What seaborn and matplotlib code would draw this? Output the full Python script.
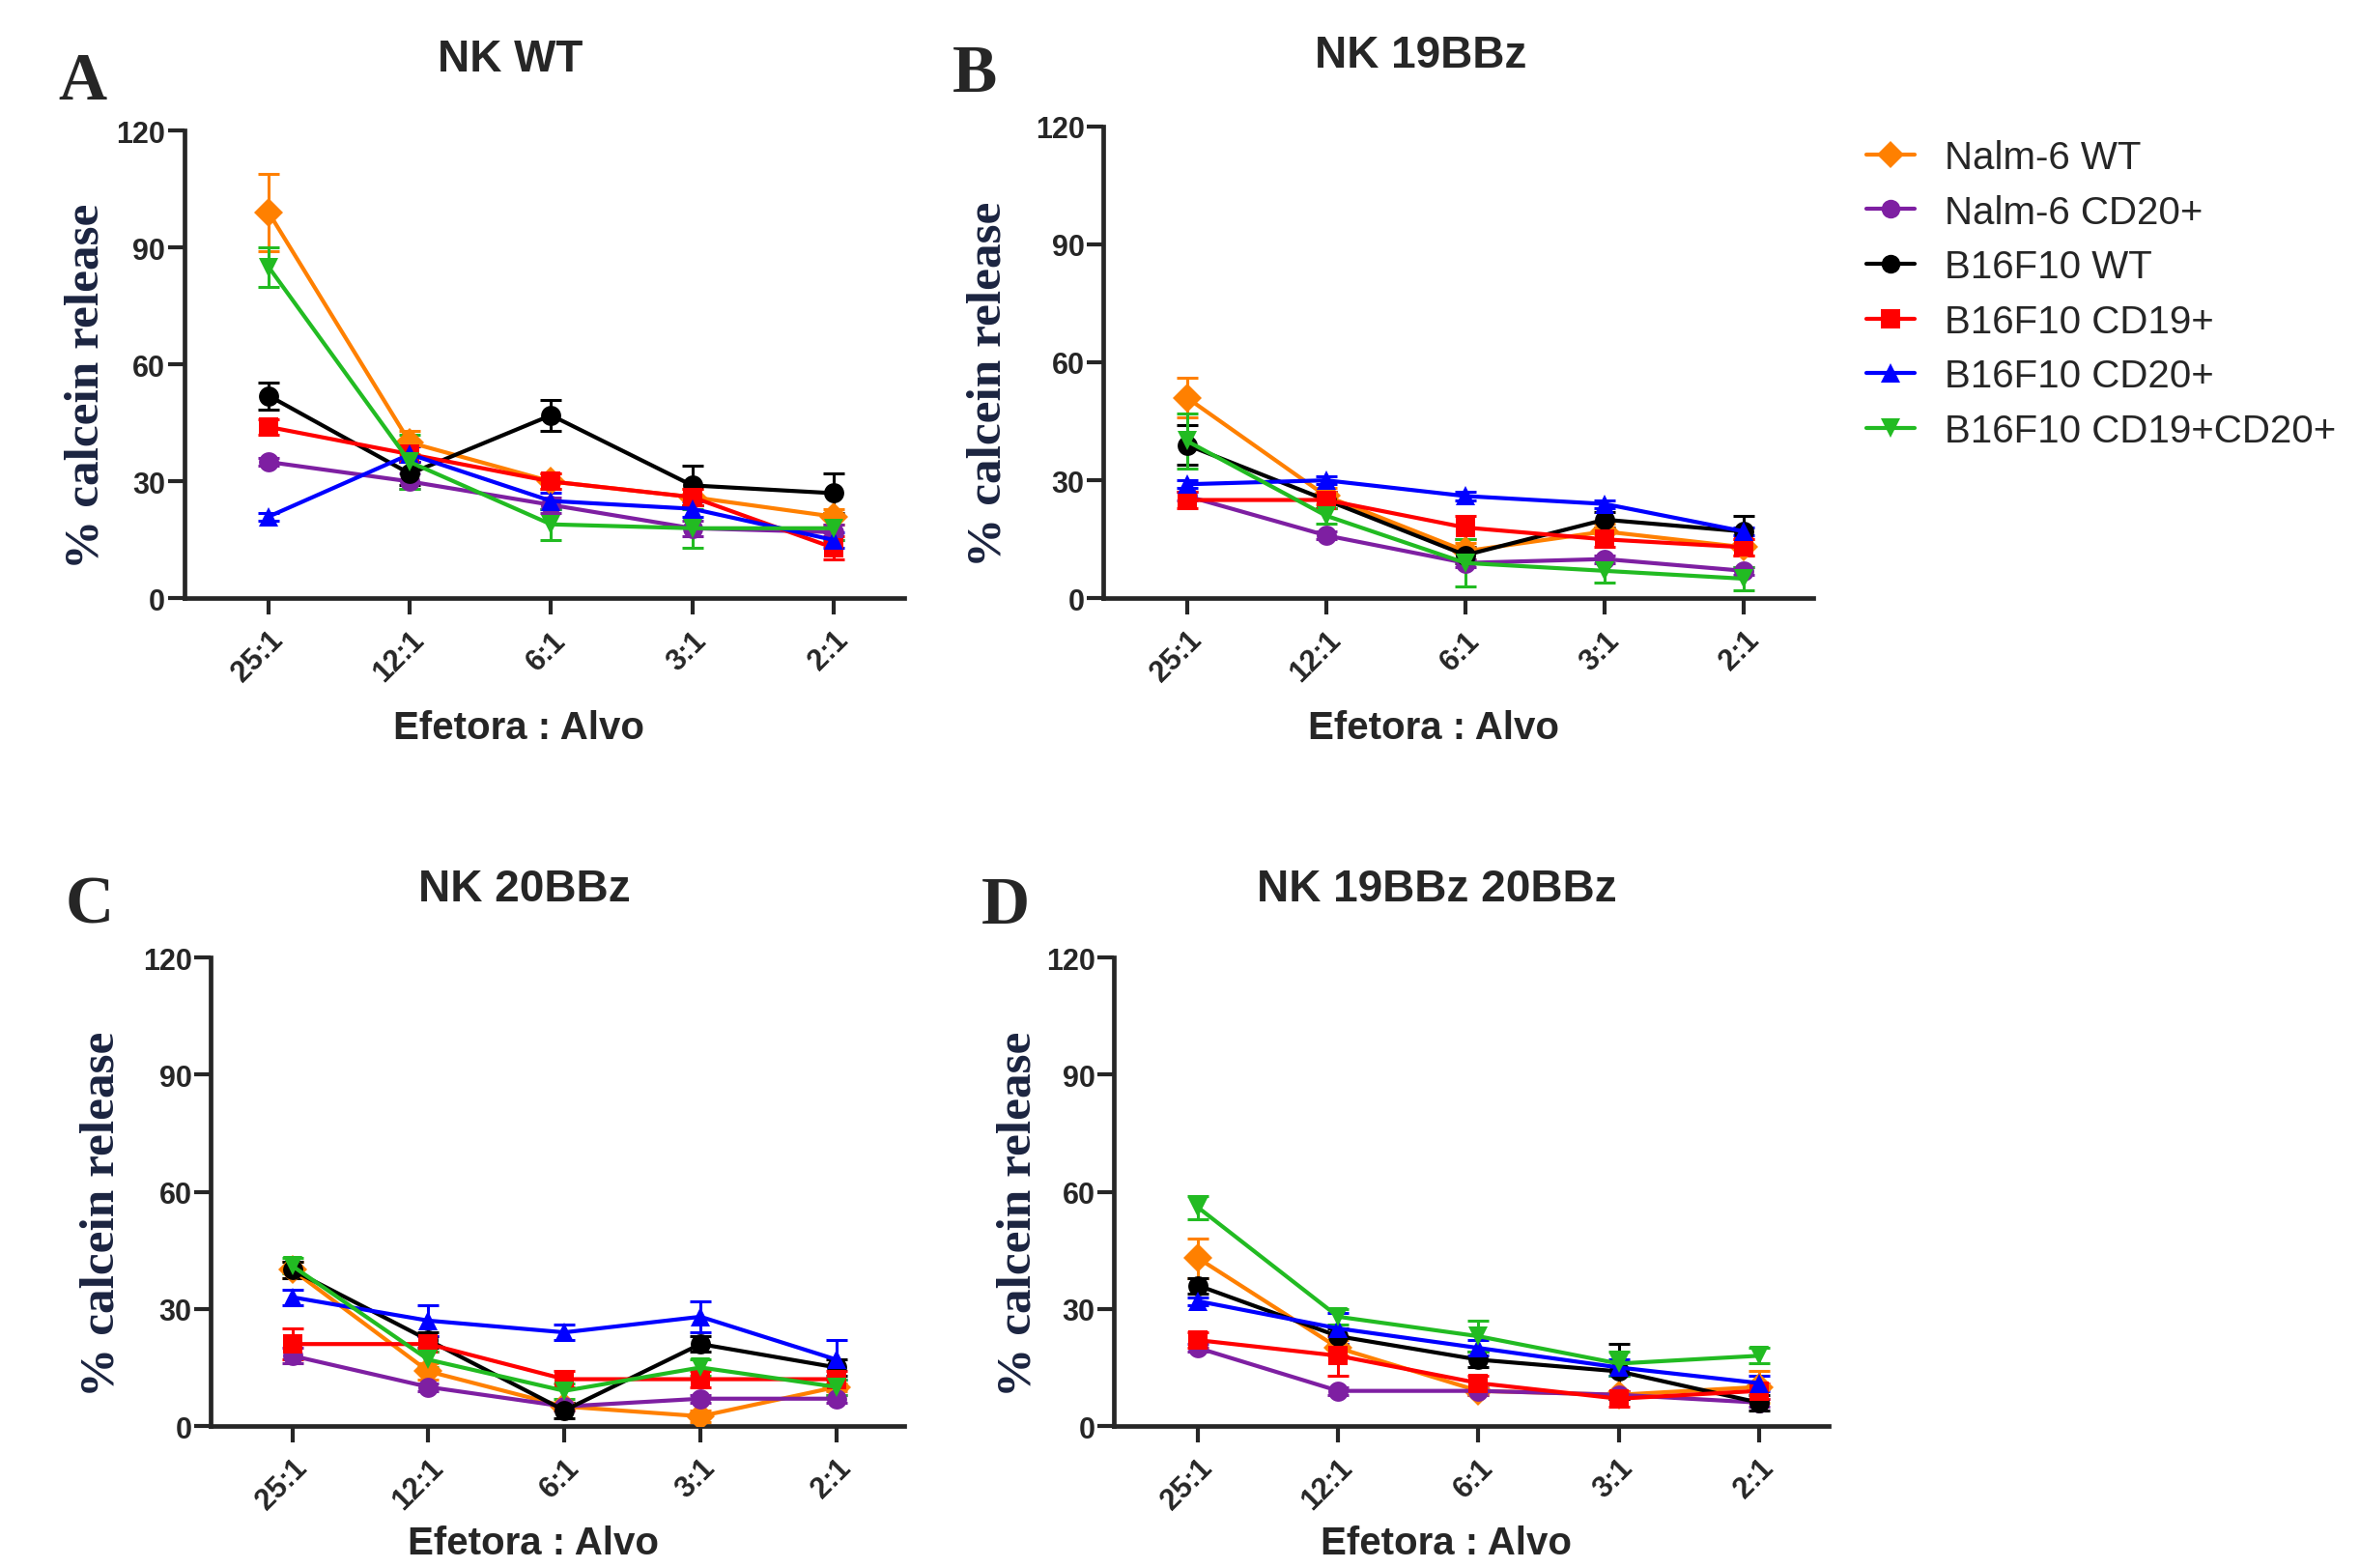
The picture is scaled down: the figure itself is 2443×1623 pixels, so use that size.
import numpy as np
import pandas as pd
import matplotlib
matplotlib.use("Agg")
import matplotlib.pyplot as plt
import seaborn as sns

# ---------------------------------------------------------------------
# Data: % calcein release per effector:target ratio
# ---------------------------------------------------------------------
ratios = ["25:1", "12:1", "6:1", "3:1", "2:1"]
targets = ["Nalm-6 WT", "Nalm-6 CD20+", "B16F10 WT",
           "B16F10 CD19+", "B16F10 CD20+", "B16F10 CD19+CD20+"]
panel_titles = ["NK WT", "NK 19BBz", "NK 20BBz", "NK 19BBz 20BBz"]
panel_letters = ["A", "B", "C", "D"]

# NK WT
nk_wt_mean = [
    [99, 40, 30, 26, 21],
    [35, 30, 24, 18, 17],
    [52, 32, 47, 29, 27],
    [44, 37, 30, 26, 13],
    [21, 37, 25, 23, 15],
    [85, 35, 19, 18, 18],
]
nk_wt_err = [
    [10, 3, 2, 2, 2],
    [1, 2, 2, 2, 2],
    [3.5, 3, 4, 5, 5],
    [2, 2, 2, 2, 3],
    [1, 2, 2, 2, 2],
    [5, 7, 4, 5, 3],
]

# NK 19BBz
nk_19_mean = [
    [51, 26, 12, 17, 13],
    [26, 16, 9, 10, 7],
    [39, 25, 11, 20, 17],
    [25, 25, 18, 15, 13],
    [29, 30, 26, 24, 17],
    [40, 21, 9, 7, 5],
]
nk_19_err = [
    [5, 2, 2, 2, 2],
    [1, 1, 1, 1, 1],
    [5, 2, 2, 2, 4],
    [2, 2, 3, 2, 2],
    [1, 1, 1, 1, 1],
    [7, 2, 6, 3, 3],
]

# NK 20BBz
nk_20_mean = [
    [40, 14, 5, 2.5, 10],
    [18, 10, 5, 7, 7],
    [40, 22, 4, 21, 15],
    [21, 21, 12, 12, 12],
    [33, 27, 24, 28, 17],
    [41, 17, 9, 15, 10],
]
nk_20_err = [
    [2, 2, 1, 1.5, 1],
    [2, 1, 1, 1, 1],
    [2, 2, 2, 2, 2],
    [4, 2, 2, 2, 2],
    [2, 4, 2, 4, 5],
    [2, 2, 2, 2, 2],
]

# NK 19BBz 20BBz
nk_1920_mean = [
    [43, 20, 9, 8, 10],
    [20, 9, 9, 8, 6],
    [36, 23, 17, 14, 6],
    [22, 18, 11, 7, 9],
    [32, 25, 20, 15, 11],
    [56, 28, 23, 16, 18],
]
nk_1920_err = [
    [5, 2, 1, 1, 4],
    [1, 1, 1, 1, 1],
    [2, 2, 2, 7, 2],
    [2, 5, 2, 2, 2],
    [1, 4, 2, 2, 2],
    [3, 2, 4, 3, 2],
]

colors = ["#FF8000", "#7E1FA2", "#000000", "#FF0000", "#0000FF", "#22BB22"]
markers = ["D", "o", "o", "s", "^", "v"]

panel_means = [nk_wt_mean, nk_19_mean, nk_20_mean, nk_1920_mean]
panel_errs = [nk_wt_err, nk_19_err, nk_20_err, nk_1920_err]

FIG_W, FIG_H = 2443, 1624

# axes rectangles in figure fractions [left, bottom, width, height]
panel_rects = [
    [0.078, 0.618, 0.305, 0.298],
    [0.4675, 0.618, 0.301, 0.301],
    [0.0893, 0.0905, 0.294, 0.2985],
    [0.472, 0.0905, 0.303, 0.2985],
]
# distance (px) from y-axis line to the right edge of the rotated y label
ylabel_gap_px = [78, 96, 90, 76]
xlabel_pad = [16, 16, 7, 7]
title_pos = [(0.216, 0.962), (0.602, 0.964), (0.222, 0.433), (0.609, 0.433)]
letter_pos = [(0.035, 0.947), (0.413, 0.952), (0.038, 0.422), (0.426, 0.422)]


def to_long(means, errs):
    rows = []
    for t, m_row, e_row in zip(targets, means, errs):
        for i, (m, e) in enumerate(zip(m_row, e_row)):
            rows.append({"target": t, "pos": i, "ratio": ratios[i], "value": m, "err": e})
    return pd.DataFrame(rows)


def draw_panel(ax, df, rect, gap_px, xpad):
    pal = dict(zip(targets, colors))
    mk = dict(zip(targets, markers))

    # error bars first so lines and markers sit on top
    for t in targets:
        sub = df[df["target"] == t]
        ax.errorbar(sub["pos"], sub["value"], yerr=sub["err"], fmt="none",
                    ecolor=pal[t], elinewidth=2.2, capsize=8, capthick=2.2, zorder=2)

    sns.lineplot(data=df, x="pos", y="value", hue="target", style="target",
                 hue_order=targets, style_order=targets, palette=pal,
                 markers=mk, dashes=False, markersize=15, markeredgewidth=0,
                 linewidth=3.0, errorbar=None, legend=False, ax=ax, zorder=3)

    ax.set_xlim(-0.6, 4.5)
    ax.set_ylim(0, 120)
    ax.set_xticks(range(len(ratios)))
    ax.set_xticklabels(ratios, rotation=45, ha="right", rotation_mode="anchor",
                       fontsize=22, fontweight="bold", family="Liberation Sans")
    ax.set_yticks([0, 30, 60, 90, 120])
    ax.set_yticklabels(["0", "30", "60", "90", "120"], fontsize=22,
                       fontweight="bold", family="Liberation Sans")
    ax.tick_params(axis="y", direction="out", length=12, width=3, pad=2)
    ax.tick_params(axis="x", direction="out", length=12, width=3, pad=8)
    for side in ["top", "right"]:
        ax.spines[side].set_visible(False)
    for side in ["left", "bottom"]:
        ax.spines[side].set_linewidth(3.4)
    ax.set_xlabel("Efetora : Alvo", fontsize=29, fontweight="bold",
                  family="Liberation Sans", labelpad=xpad)
    ax.xaxis.label.set_x(0.465)
    ax.set_ylabel("% calcein release", fontsize=37, fontweight="bold",
                  family="Liberation Serif", color="#1b2440")
    ax.yaxis.set_label_coords(-gap_px / (rect[2] * FIG_W), 0.455)


if __name__ == "__main__":
    sns.set_style("ticks")
    plt.rcParams["font.family"] = ["Liberation Sans", "DejaVu Sans"]

    fig = plt.figure(figsize=(FIG_W / 100, FIG_H / 100), dpi=100)

    axes = []
    for i in range(4):
        ax = fig.add_axes(panel_rects[i])
        draw_panel(ax, to_long(panel_means[i], panel_errs[i]), panel_rects[i],
                   ylabel_gap_px[i], xlabel_pad[i])
        axes.append(ax)
        fig.text(title_pos[i][0], title_pos[i][1], panel_titles[i],
                 ha="center", va="center", fontsize=33, fontweight="bold",
                 family="Liberation Sans")
        fig.text(letter_pos[i][0], letter_pos[i][1], panel_letters[i],
                 ha="center", va="center", fontsize=50, fontweight="bold",
                 family="Liberation Serif")

    # shared legend to the right of panel B
    handles = [plt.Line2D([0], [0], color=c, marker=m, markersize=14, linewidth=3.0,
                          markeredgewidth=0)
               for c, m in zip(colors, markers)]
    fig.legend(handles, targets, loc="upper left", bbox_to_anchor=(0.776, 0.933),
               frameon=False, fontsize=29, handlelength=1.25, handletextpad=0.75,
               labelspacing=0.46)

    fig.savefig("out.png", dpi=100)
